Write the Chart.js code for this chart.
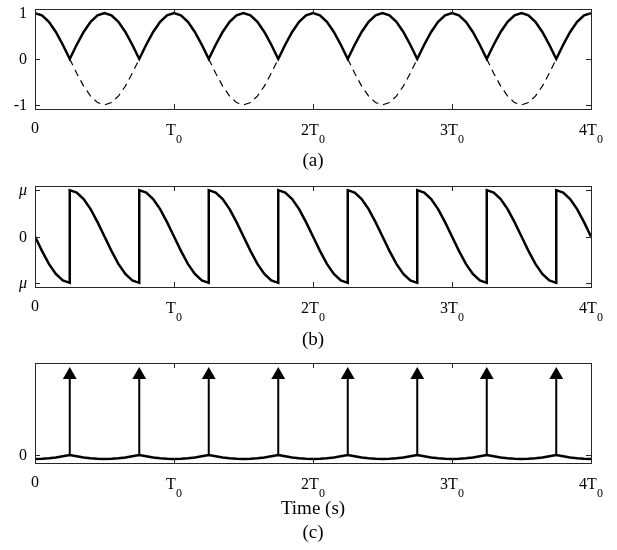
<!DOCTYPE html>
<html>
<head>
<meta charset="utf-8">
<script src="https://cdn.jsdelivr.net/npm/chart.js@4.4.1/dist/chart.umd.min.js"></script>
<style>
  html, body { margin: 0; padding: 0; background: #fff; }
  #wrap { position: relative; width: 617px; height: 550px; }
  canvas { position: absolute; left: 0; }
</style>
</head>
<body>
<div id="wrap">
  <canvas id="panelA" width="617" height="175" style="top:0"></canvas>
  <canvas id="panelB" width="617" height="175" style="top:175px"></canvas>
  <canvas id="panelC" width="617" height="200" style="top:350px"></canvas>
</div>
<script>
// time axis, in units of T0
const t = [
  0, .05, .1, .15, .2, .25, .3, .35, .4, .45,
  .5, .55, .6, .65, .7, .75, .8, .85, .9, .95,
  1, 1.05, 1.1, 1.15, 1.2, 1.25, 1.3, 1.35, 1.4, 1.45,
  1.5, 1.55, 1.6, 1.65, 1.7, 1.75, 1.8, 1.85, 1.9, 1.95,
  2, 2.05, 2.1, 2.15, 2.2, 2.25, 2.3, 2.35, 2.4, 2.45,
  2.5, 2.55, 2.6, 2.65, 2.7, 2.75, 2.8, 2.85, 2.9, 2.95,
  3, 3.05, 3.1, 3.15, 3.2, 3.25, 3.3, 3.35, 3.4, 3.45,
  3.5, 3.55, 3.6, 3.65, 3.7, 3.75, 3.8, 3.85, 3.9, 3.95,
  4
];

// (a) rectified signal (solid) and original signal where negative (dashed)
const rectified = [
  1, .95, .81, .59, .31, 0, .31, .59, .81, .95,
  1, .95, .81, .59, .31, 0, .31, .59, .81, .95,
  1, .95, .81, .59, .31, 0, .31, .59, .81, .95,
  1, .95, .81, .59, .31, 0, .31, .59, .81, .95,
  1, .95, .81, .59, .31, 0, .31, .59, .81, .95,
  1, .95, .81, .59, .31, 0, .31, .59, .81, .95,
  1, .95, .81, .59, .31, 0, .31, .59, .81, .95,
  1, .95, .81, .59, .31, 0, .31, .59, .81, .95,
  1
];
const original = [
  null, null, null, null, null, 0, -.31, -.59, -.81, -.95,
  -1, -.95, -.81, -.59, -.31, 0, null, null, null, null,
  null, null, null, null, null, 0, -.31, -.59, -.81, -.95,
  -1, -.95, -.81, -.59, -.31, 0, null, null, null, null,
  null, null, null, null, null, 0, -.31, -.59, -.81, -.95,
  -1, -.95, -.81, -.59, -.31, 0, null, null, null, null,
  null, null, null, null, null, 0, -.31, -.59, -.81, -.95,
  -1, -.95, -.81, -.59, -.31, 0, null, null, null, null,
  null
];

// (b) phase, with the jumps at odd quarter periods
const phaseT = [
  0, .05, .1, .15, .2, .25,
  .25, .3, .35, .4, .45, .5, .55, .6, .65, .7, .75,
  .75, .8, .85, .9, .95, 1, 1.05, 1.1, 1.15, 1.2, 1.25,
  1.25, 1.3, 1.35, 1.4, 1.45, 1.5, 1.55, 1.6, 1.65, 1.7, 1.75,
  1.75, 1.8, 1.85, 1.9, 1.95, 2, 2.05, 2.1, 2.15, 2.2, 2.25,
  2.25, 2.3, 2.35, 2.4, 2.45, 2.5, 2.55, 2.6, 2.65, 2.7, 2.75,
  2.75, 2.8, 2.85, 2.9, 2.95, 3, 3.05, 3.1, 3.15, 3.2, 3.25,
  3.25, 3.3, 3.35, 3.4, 3.45, 3.5, 3.55, 3.6, 3.65, 3.7, 3.75,
  3.75, 3.8, 3.85, 3.9, 3.95, 4
];
const phase = [
  0, -.31, -.59, -.81, -.95, -1,
  1, .95, .81, .59, .31, 0, -.31, -.59, -.81, -.95, -1,
  1, .95, .81, .59, .31, 0, -.31, -.59, -.81, -.95, -1,
  1, .95, .81, .59, .31, 0, -.31, -.59, -.81, -.95, -1,
  1, .95, .81, .59, .31, 0, -.31, -.59, -.81, -.95, -1,
  1, .95, .81, .59, .31, 0, -.31, -.59, -.81, -.95, -1,
  1, .95, .81, .59, .31, 0, -.31, -.59, -.81, -.95, -1,
  1, .95, .81, .59, .31, 0, -.31, -.59, -.81, -.95, -1,
  1, .95, .81, .59, .31, 0
];

// (c) impulses and the small baseline ripple
const impulseT = [.25, .75, 1.25, 1.75, 2.25, 2.75, 3.25, 3.75];
const impulseH = 1;
const ripple = [
  -.05, -.048, -.04, -.03, -.015, 0, -.015, -.03, -.04, -.048,
  -.05, -.048, -.04, -.03, -.015, 0, -.015, -.03, -.04, -.048,
  -.05, -.048, -.04, -.03, -.015, 0, -.015, -.03, -.04, -.048,
  -.05, -.048, -.04, -.03, -.015, 0, -.015, -.03, -.04, -.048,
  -.05, -.048, -.04, -.03, -.015, 0, -.015, -.03, -.04, -.048,
  -.05, -.048, -.04, -.03, -.015, 0, -.015, -.03, -.04, -.048,
  -.05, -.048, -.04, -.03, -.015, 0, -.015, -.03, -.04, -.048,
  -.05, -.048, -.04, -.03, -.015, 0, -.015, -.03, -.04, -.048,
  -.05
];

// tick labels
const xTicks = [0, 1, 2, 3, 4];
const xTickMain = ['0', 'T', '2T', '3T', '4T'];
const xTickSub = ['', '0', '0', '0', '0'];
const yTicksA = [1, 0, -1], yLabelsA = ['1', '0', '-1'];
const yTicksB = [1, 0, -1], yLabelsB = ['μ', '0', 'μ'];
const yTicksC = [0], yLabelsC = ['0'];

const SERIF = '"Liberation Serif", "Times New Roman", serif';
const zip = (xs, ys) => xs.map((x, i) => ({ x, y: ys[i] }));

// box, inward ticks and labels
const framePlugin = {
  id: 'frame',
  afterDraw(chart, args, o) {
    const { ctx, chartArea: a, scales: { x, y } } = chart;
    ctx.save();
    ctx.strokeStyle = '#262626';
    ctx.lineWidth = 1;
    ctx.strokeRect(a.left + .5, a.top + .5, a.right - a.left, a.bottom - a.top);
    ctx.beginPath();
    xTicks.forEach(v => {
      const px = Math.round(x.getPixelForValue(v)) + .5;
      ctx.moveTo(px, a.bottom); ctx.lineTo(px, a.bottom - 5);
      ctx.moveTo(px, a.top); ctx.lineTo(px, a.top + 5);
    });
    o.yTicks.forEach(v => {
      const py = Math.round(y.getPixelForValue(v)) + .5;
      ctx.moveTo(a.left, py); ctx.lineTo(a.left + 5, py);
      ctx.moveTo(a.right, py); ctx.lineTo(a.right - 5, py);
    });
    ctx.stroke();

    ctx.fillStyle = '#000';
    ctx.textBaseline = 'middle';
    ctx.textAlign = 'right';
    o.yTicks.forEach((v, i) => {
      const lab = o.yLabels[i];
      ctx.font = (lab === 'μ' ? 'italic ' : '') + '16px ' + SERIF;
      ctx.fillText(lab, a.left - 8, y.getPixelForValue(v) + 1);
    });

    ctx.textAlign = 'left';
    ctx.textBaseline = 'alphabetic';
    xTicks.forEach((v, i) => {
      const px = x.getPixelForValue(v);
      ctx.font = '16px ' + SERIF;
      const wm = ctx.measureText(xTickMain[i]).width;
      ctx.font = '12px ' + SERIF;
      const ws = ctx.measureText(xTickSub[i]).width;
      const x0 = px - (wm + ws) / 2;
      ctx.font = '16px ' + SERIF;
      if (xTickSub[i]) {
        ctx.fillText(xTickMain[i], x0, a.bottom + 26);
        ctx.font = '12px ' + SERIF;
        ctx.fillText(xTickSub[i], x0 + wm, a.bottom + 34);
      } else {
        ctx.fillText(xTickMain[i], x0, a.bottom + 24);
      }
    });

    ctx.textAlign = 'center';
    ctx.textBaseline = 'middle';
    ctx.font = '19px ' + SERIF;
    const cx = (a.left + a.right) / 2;
    (o.texts || []).forEach(([s, ty]) => ctx.fillText(s, cx, ty));
    ctx.restore();
  }
};

function panel(id, datasets, yMin, yMax, padding, frame) {
  return new Chart(document.getElementById(id), {
    type: 'scatter',
    data: { datasets },
    options: {
      responsive: false,
      animation: false,
      events: [],
      layout: { padding },
      scales: {
        x: { type: 'linear', min: 0, max: 4, display: false },
        y: { type: 'linear', min: yMin, max: yMax, display: false }
      },
      plugins: { legend: { display: false }, tooltip: { enabled: false }, frame }
    },
    plugins: [framePlugin]
  });
}

const line = { showLine: true, pointRadius: 0, borderColor: '#000', spanGaps: false };

panel('panelA', [
  { ...line, data: zip(t, rectified), borderWidth: 2.5 },
  { ...line, data: zip(t, original), borderWidth: 1.2, borderDash: [7, 5] }
], -1.09, 1.09, { left: 35, right: 26, top: 9, bottom: 66 },
  { yTicks: yTicksA, yLabels: yLabelsA, texts: [['(a)', 161]] });

panel('panelB', [
  { ...line, data: zip(phaseT, phase), borderWidth: 2.5 }
], -1.09, 1.09, { left: 35, right: 26, top: 11, bottom: 63 },
  { yTicks: yTicksB, yLabels: yLabelsB, texts: [['(b)', 165]] });

panel('panelC', [
  {
    ...line,
    data: impulseT.flatMap(v => [{ x: v, y: 0 }, { x: v, y: impulseH }, { x: v, y: null }]),
    borderWidth: 2,
    pointStyle: 'triangle',
    pointRadius: c => (c.raw && c.raw.y === impulseH ? 8 : 0),
    pointBackgroundColor: '#000',
    pointBorderColor: '#000',
    pointBorderWidth: 0
  },
  { ...line, data: zip(t, ripple), borderWidth: 2.5 }
], -0.1, 1.15, { left: 35, right: 26, top: 13, bottom: 87 },
  { yTicks: yTicksC, yLabels: yLabelsC, texts: [['Time (s)', 159], ['(c)', 183]] });
</script>
</body>
</html>
